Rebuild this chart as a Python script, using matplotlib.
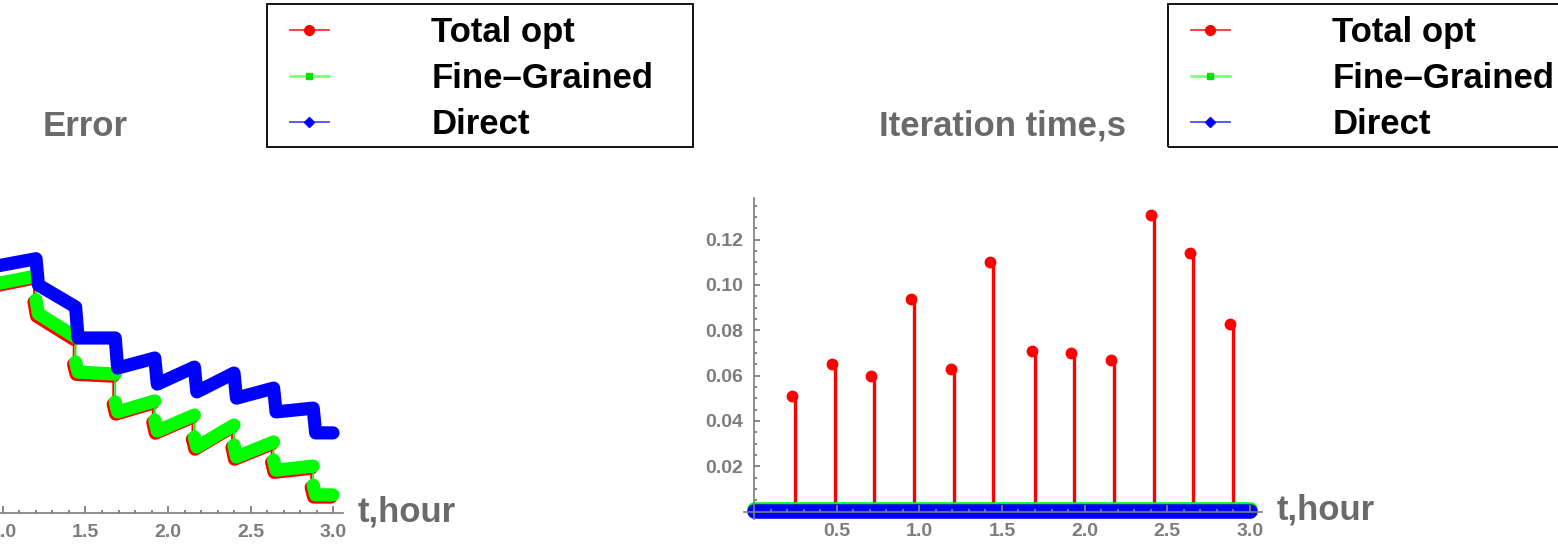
import matplotlib
matplotlib.use("Agg")
import matplotlib.pyplot as plt
from matplotlib.lines import Line2D
from matplotlib.patches import Rectangle
from matplotlib.ticker import MultipleLocator, FixedLocator

plt.rcParams['font.family'] = ['Liberation Sans', 'DejaVu Sans']

# ---------------- data ----------------
series_names = ["Total opt", "Fine\u2013Grained", "Direct"]

# Error panel (arbitrary error units; drops at each re-optimisation)
total_err_t = [0.918, 0.948, 0.948, 1.188, 1.188, 1.203, 1.428, 1.428, 1.443, 1.668, 1.668, 1.683,
               1.908, 1.908, 1.923, 2.148, 2.148, 2.163, 2.388, 2.388, 2.403, 2.628, 2.628, 2.643,
               2.868, 2.868, 2.883, 2.988]
total_err_v = [0.820, 0.836, 0.725, 0.750, 0.674, 0.629, 0.555, 0.475, 0.443, 0.437, 0.348, 0.316,
               0.351, 0.290, 0.255, 0.306, 0.236, 0.204, 0.274, 0.210, 0.172, 0.220, 0.162, 0.130,
               0.143, 0.082, 0.051, 0.051]

fine_err_t = [0.93, 0.96, 0.96, 1.20, 1.20, 1.215, 1.44, 1.44, 1.455, 1.68, 1.68, 1.695,
              1.92, 1.92, 1.935, 2.16, 2.16, 2.175, 2.40, 2.40, 2.415, 2.64, 2.64, 2.655,
              2.88, 2.88, 2.895, 3.00]
fine_err_v = [0.827, 0.843, 0.732, 0.757, 0.681, 0.636, 0.562, 0.482, 0.450, 0.444, 0.355, 0.323,
              0.358, 0.297, 0.262, 0.313, 0.243, 0.211, 0.281, 0.217, 0.179, 0.227, 0.169, 0.137,
              0.150, 0.089, 0.058, 0.058]

direct_err_t = [0.945, 0.965, 1.20, 1.215, 1.44, 1.455, 1.68, 1.695, 1.92, 1.935, 2.16, 2.175,
                2.40, 2.415, 2.64, 2.655, 2.88, 2.895, 3.00]
direct_err_v = [0.853, 0.789, 0.812, 0.728, 0.658, 0.559, 0.559, 0.463, 0.495, 0.412, 0.466, 0.387,
                0.447, 0.367, 0.399, 0.323, 0.335, 0.256, 0.256]

# Iteration time panel (s)
update_t = [0.23, 0.47, 0.71, 0.95, 1.19, 1.43, 1.68, 1.92, 2.16, 2.40, 2.64, 2.88]
total_iter = [0.051, 0.065, 0.060, 0.094, 0.063, 0.110, 0.071, 0.070, 0.067, 0.131, 0.114, 0.083]
step_t = [0.0, 0.24, 0.48, 0.72, 0.96, 1.20, 1.44, 1.68, 1.92, 2.16, 2.40, 2.64, 2.88, 3.0]
fine_iter = [0.0009] * len(step_t)
direct_iter = [0.0004] * len(step_t)

x_major = [0.5, 1.0, 1.5, 2.0, 2.5, 3.0]
x_labels = ["0.5", "1.0", "1.5", "2.0", "2.5", "3.0"]
y_major = [0.02, 0.04, 0.06, 0.08, 0.10, 0.12]
y_labels = ["0.02", "0.04", "0.06", "0.08", "0.10", "0.12"]

# ---------------- style ----------------
RED, BLUE = "#ff0000", "#0000ff"
GRAY = "#7d7d7d"
TXT_GRAY = "#6a6a6a"
W, H = 1558, 549

fig = plt.figure(figsize=(W / 100, H / 100), dpi=100)


def fx(px):
    return px / W


def fy(py):
    return 1 - py / H


axL = fig.add_axes([fx(-172), fy(519), fx(343 + 172), (519 - 198) / H])
axR = fig.add_axes([fx(744), fy(519), fx(1262 - 744), (519 - 198) / H])


def style_axes(ax):
    for s in ("top", "right"):
        ax.spines[s].set_visible(False)
    ax.spines["bottom"].set_position(("data", 0))
    ax.spines["left"].set_position(("data", 0))
    for s in ("bottom", "left"):
        ax.spines[s].set_color(GRAY)
        ax.spines[s].set_linewidth(1.2)
        ax.spines[s].set_zorder(10)
    ax.xaxis.set_zorder(10)
    ax.yaxis.set_zorder(10)
    ax.set_facecolor("none")
    ax.set_xticks(x_major)
    ax.set_xticklabels(x_labels)
    ax.xaxis.set_minor_locator(MultipleLocator(0.1))
    ax.tick_params(axis="x", which="major", direction="in", length=5, width=1.3, color=GRAY,
                   labelsize=14, labelcolor=GRAY, pad=8)
    ax.tick_params(axis="x", which="minor", direction="in", length=2.5, width=1.3, color=GRAY)
    for lab in ax.get_xticklabels():
        lab.set_fontweight("bold")


# ---------------- left: Error ----------------
style_axes(axL)
axL.set_xlim(-0.0606, 3.0606)
axL.set_ylim(-0.019, 1.006)
axL.spines["left"].set_visible(False)
axL.set_yticks([])


def draw_error(ax, t, v, color, z):
    ax.plot(t, v, color=color, lw=1.3, zorder=z)
    start = 0
    for i in range(1, len(t) + 1):
        if i == len(t) or t[i] == t[i - 1]:
            ax.plot(t[start:i], v[start:i], color=color, lw=9.5, solid_capstyle="round",
                    solid_joinstyle="round", zorder=z)
            start = i


draw_error(axL, total_err_t, total_err_v, RED, 3)
draw_error(axL, fine_err_t, fine_err_v, "#00ff00", 4)
axL.plot(direct_err_t, direct_err_v, color=BLUE, lw=9.5, solid_capstyle="round",
         solid_joinstyle="round", zorder=5)

axL.set_title("Error", fontsize=25, fontweight="bold", color=TXT_GRAY, pad=45)
axL.set_xlabel("t,hour", fontsize=25, fontweight="bold", color=TXT_GRAY, ha="left", va="center")
axL.xaxis.set_label_coords((358 + 172) / 515, (519 - 512) / 321)

# ---------------- right: Iteration time ----------------
style_axes(axR)
axR.set_xlim(-0.0605, 3.073)
axR.set_ylim(-0.0033, 0.1384)
axR.set_yticks(y_major)
axR.set_yticklabels(y_labels)
axR.yaxis.set_minor_locator(FixedLocator([0.005 * k for k in range(1, 28) if k % 4 != 0]))
axR.tick_params(axis="y", which="major", direction="in", length=4, width=1.3, color=GRAY,
                labelsize=14, labelcolor=GRAY, pad=8)
axR.tick_params(axis="y", which="minor", direction="in", length=2.5, width=1.3, color=GRAY)
for lab in axR.get_yticklabels():
    lab.set_fontweight("bold")

axR.vlines([t + 0.017 for t in update_t], 0, total_iter, color=RED, lw=2.4, zorder=3)
axR.plot(update_t, total_iter, "o", color=RED, ms=7.5, zorder=4)
axR.plot(step_t, fine_iter, color="#00ff00", lw=10.5, solid_capstyle="round", zorder=5)
axR.plot(step_t, direct_iter, color=BLUE, lw=10.5, solid_capstyle="round", zorder=6)

axR.set_title("Iteration time,s", fontsize=25, fontweight="bold", color=TXT_GRAY, pad=45)
axR.set_xlabel("t,hour", fontsize=25, fontweight="bold", color=TXT_GRAY, ha="left", va="center")
axR.xaxis.set_label_coords((1277 - 744) / 518, (519 - 510) / 321)

# ---------------- legends ----------------
handles = [
    Line2D([], [], color="#ff3030", lw=1.3, marker="o", ms=7, mfc=RED, mec=RED),
    Line2D([], [], color="#70ff70", lw=1.8, marker="s", ms=5, mfc="#00e000", mec="#00e000"),
    Line2D([], [], color="#4a4aff", lw=1.3, marker="D", ms=5, mfc=BLUE, mec=BLUE),
]

for left in (267, 1168):
    fig.add_artist(Rectangle((fx(left), fy(147)), fx(426), (147 - 4) / H, transform=fig.transFigure,
                             fill=False, edgecolor="black", lw=1.3, zorder=20))
    leg = fig.legend(handles, series_names, loc="upper left",
                     bbox_to_anchor=(fx(left + 23), fy(16)), bbox_transform=fig.transFigure,
                     frameon=False, borderpad=0, borderaxespad=0, handlelength=1.12,
                     handletextpad=2.95, labelspacing=0.37,
                     prop={"family": "Liberation Sans", "weight": "bold", "size": 25})
    leg.set_zorder(21)

fig.savefig("out.png", dpi=100)
